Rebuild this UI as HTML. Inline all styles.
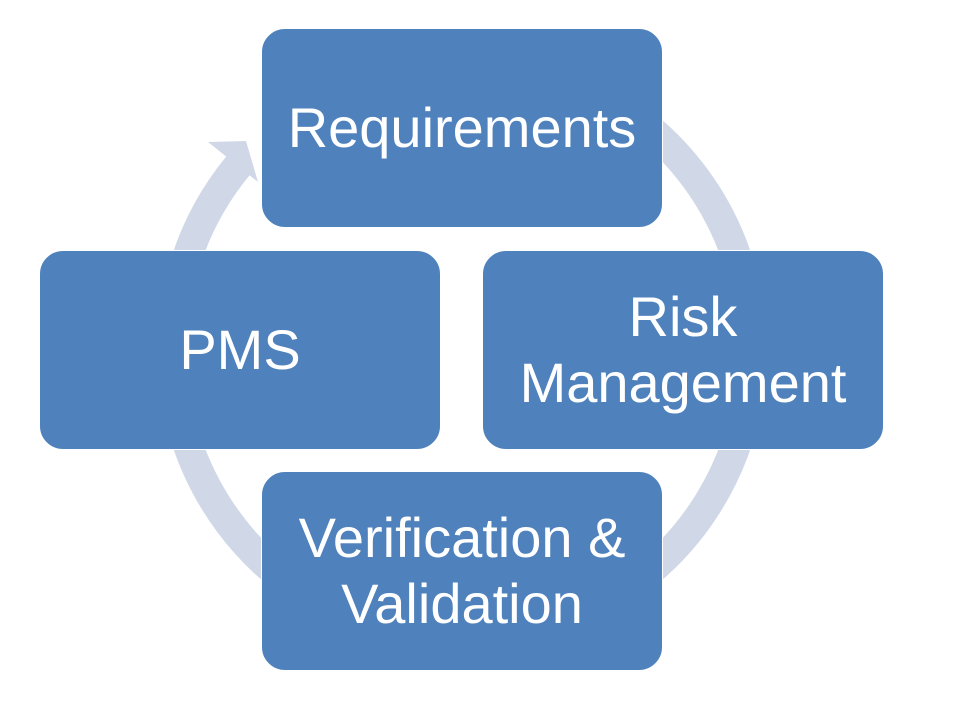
<!DOCTYPE html>
<html><head><style>
body{margin:0;width:960px;height:720px;background:#fff;overflow:hidden;position:relative;font-family:"Liberation Sans",sans-serif}
svg{position:absolute;left:0;top:0}
.b{position:absolute;width:402px;height:200px;background:#4F81BD;border-radius:24px;color:#fff;display:flex;align-items:center;justify-content:center;text-align:center;font-size:56px;line-height:66px;box-sizing:border-box;border:1px solid #fff}
</style></head><body>
<svg width="960" height="720">
<path d="M411.6,64.4 A290,290 0 1 1 238.2,165.5" fill="none" stroke="#D0D8E8" stroke-width="30"/>
<polygon points="208,142 246,141 258,182" fill="#D0D8E8"/>
</svg>
<div class="b" style="left:261px;top:28px">Requirements</div>
<div class="b" style="left:482px;top:250px">Risk<br>Management</div>
<div class="b" style="left:39px;top:250px">PMS</div>
<div class="b" style="left:261px;top:471px">Verification &amp;<br>Validation</div>
</body></html>
